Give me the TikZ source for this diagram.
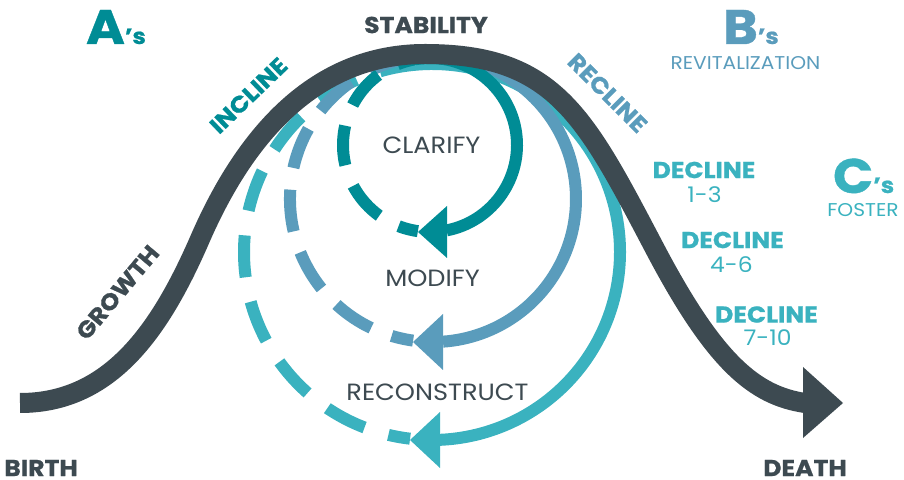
\documentclass[tikz,border=0pt]{standalone}
\usepackage{fontspec}
\setmainfont{Poppins}[FakeStretch=1.09, BoldFeatures={FakeBold=0.8}]
\definecolor{dk}{HTML}{3D4A51}
\definecolor{tl}{HTML}{008C95}
\definecolor{bl}{HTML}{5A9CBC}
\definecolor{cy}{HTML}{3AB2BF}
\begin{document}
\begin{tikzpicture}[x=1pt,y=1pt,
  every node/.style={inner sep=0pt, outer sep=0pt},
  boldlbl/.style={font=\fontsize{23}{23}\selectfont\bfseries},
  reglbl/.style={font=\fontsize{23.5}{23.5}\selectfont},
  numlbl/.style={font=\fontsize{21.5}{21.5}\selectfont},
  sublbl/.style={font=\fontsize{18.5}{18.5}\selectfont},
  letterlbl/.style={font=\fontsize{48.5}{48.5}\selectfont\bfseries, anchor=base west},
  arcline/.style={line width=12pt},
  dashline/.style={line width=12pt, dash pattern=on 40pt off 22pt, dash phase=20pt}]
\useasboundingbox (0,0) rectangle (904,479);

% circle centres
\coordinate (cR) at (432,227);
\coordinate (cM) at (433,280);
\coordinate (cC) at (430,334);

% reconstruct (cyan)
\draw[cy, dashline, dash pattern=on 42pt off 25pt] (cR) ++(263.3:188pt) arc[start angle=263.3, end angle=95, radius=188pt];
\draw[cy, arcline] (cR) ++(95:188pt) arc[start angle=95, end angle=-87.6, radius=188pt];
\fill[cy] (440,67) -- (410,39) -- (440,11) -- cycle;

% modify (blue)
\draw[bl, dashline, dash pattern=on 42pt off 22pt] (cM) ++(262:143pt) arc[start angle=262, end angle=95, radius=143pt];
\draw[bl, arcline] (cM) ++(95:143pt) arc[start angle=95, end angle=-86, radius=143pt];
\fill[bl] (443,165) -- (413,137) -- (443,109) -- cycle;

% clarify (teal)
\draw[tl, dashline] (cC) ++(262:87pt) arc[start angle=262, end angle=95, radius=87pt];
\draw[tl, arcline] (cC) ++(95:87pt) arc[start angle=95, end angle=-79, radius=87pt];
\fill[tl] (447,273) -- (418,247) -- (447,221) -- cycle;

% main life-cycle curve
\coordinate (start) at (20,76);
\coordinate (inflL) at (200,240);
\coordinate (peak) at (425,425);
\coordinate (inflR) at (655,230);
\coordinate (stop) at (805,76);
\draw[dk, line width=20pt] (start) .. controls (110,76) and (160,148) .. (inflL)
  .. controls (245,343.5) and (315,425) .. (peak)
  .. controls (555,425) and (585,363) .. (inflR)
  .. controls (715,116) and (755,83.5) .. (stop);
\fill[dk] (803,112) -- (843,76) -- (803,41) -- cycle;

% labels
\node[boldlbl, text=dk] (stab) at (426,454) {STABILITY};
\node[boldlbl, text=tl, rotate=44] (incl) at (248.5,383.5) {INCLINE};
\node[boldlbl, text=dk, rotate=50] (grow) at (117.5,186.5) {GROWTH};
\node[boldlbl, text=bl, rotate=-45] (recl) at (607.5,386) {RECLINE};
\node[reglbl, text=dk] (clar) at (431.5,334) {CLARIFY};
\node[reglbl, text=dk] (modi) at (432.5,200.5) {MODIFY};
\node[reglbl, text=dk] (reco) at (437.5,87) {RECONSTRUCT};
\node[boldlbl, text=cy] (d1) at (704,309) {DECLINE};
\node[numlbl, text=cy] (n1) at (704.5,284.5) {1-3};
\node[boldlbl, text=cy] (d2) at (732.5,239) {DECLINE};
\node[numlbl, text=cy] (n2) at (731.5,214.5) {4-6};
\node[boldlbl, text=cy] (d3) at (766.5,164.5) {DECLINE};
\node[numlbl, text=cy] (n3) at (767.5,141) {7-10};
\node[boldlbl, text=dk] (birth) at (41,11) {BIRTH};
\node[boldlbl, text=dk] (death) at (805,11) {DEATH};
\node[letterlbl, text=tl] (as) at (86,435) {A{\fontsize{22}{22}\selectfont ’s}};
\node[letterlbl, text=bl] (bs) at (723,435) {B{\fontsize{22}{22}\selectfont ’s}};
\node[letterlbl, text=cy] (cs) at (833,286) {C{\fontsize{22}{22}\selectfont ’s}};
\node[sublbl, text=bl] (revit) at (745.5,416) {REVITALIZATION};
\node[sublbl, text=cy] (fost) at (863,269) {FOSTER};
\end{tikzpicture}
\end{document}
